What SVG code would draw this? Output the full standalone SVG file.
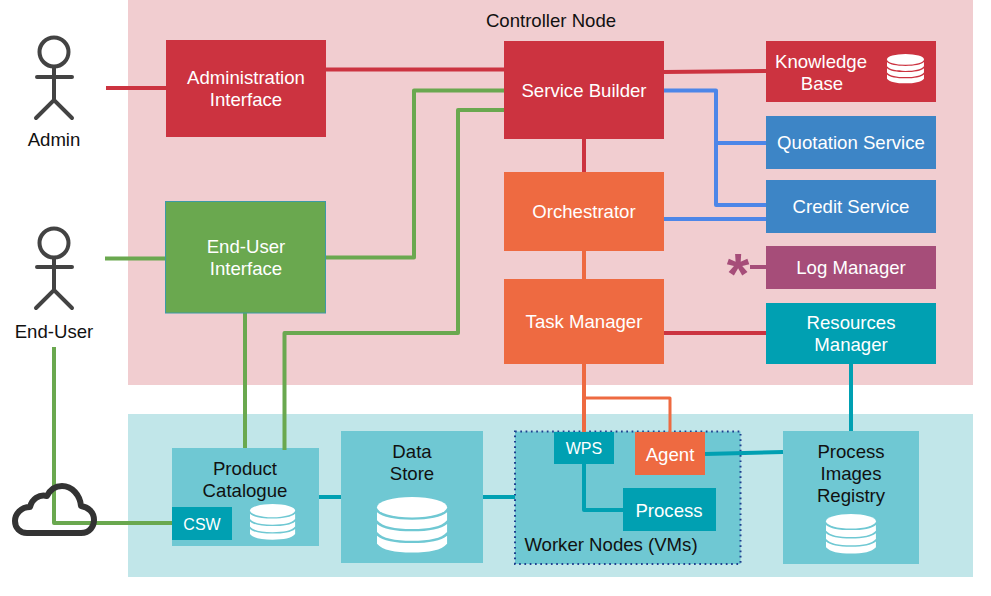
<svg xmlns="http://www.w3.org/2000/svg" width="991" height="596" viewBox="0 0 991 596">
<style>
text{font-family:"Liberation Sans",Arial,sans-serif;font-size:18.600px;text-anchor:middle}
.w{fill:#fff}.k{fill:#111}
.red{fill:#cc3340}.org{fill:#ee6a41}.blu{fill:#3d85c6}.tea{fill:#00a0b2}.lt{fill:#6fc8d3}
.c{fill:none;stroke-width:4;stroke-linejoin:round}
.cr{stroke:#cc3340}.cg{stroke:#6aa84f}.cb{stroke:#4d86e8}.co{stroke:#ee6a41}.ct{stroke:#00a0b2}
.p{fill:none;stroke:#434343;stroke-width:4;stroke-linecap:round}
</style>
<defs>
<g id="db">
<ellipse cx="24" cy="7" rx="24" ry="7" fill="#fff"/>
<path id="dbb" d="M0 10.500C4 14 12 15.500 24 15.500S44 14 48 10.500V16C44 20.500 36 22 24 22S4 20.500 0 16Z" fill="#fff"/>
<use href="#dbb" y="8"/>
<use href="#dbb" y="16"/>
</g>
</defs>
<rect width="991" height="596" fill="#fff"/>
<rect id="controller-panel" x="128" y="0" width="845" height="385" fill="#f1cdd0"/>
<rect id="worker-panel" x="128" y="414" width="845" height="163" fill="#c1e6e9"/>
<text x="551" y="27" class="k">Controller Node</text>

<g id="product-catalogue"><rect x="172" y="448" width="147" height="98" class="lt"/><text x="245" y="475" class="k">Product</text><text x="245" y="497" class="k">Catalogue</text></g>
<g id="data-store"><rect x="341" y="431" width="142" height="132" class="lt"/><text x="412" y="458" class="k">Data</text><text x="412" y="480" class="k">Store</text><use href="#db" transform="translate(377 497) scale(1.46)"/></g>
<g id="worker-nodes"><rect x="515" y="431.500" width="225.500" height="132.500" class="lt" stroke="#1f3f8f" stroke-width="2" stroke-dasharray="1.700 3.600"/><text x="611" y="551" class="k">Worker Nodes (VMs)</text></g>
<g id="registry"><rect x="783" y="431" width="136" height="133" class="lt"/><text x="851" y="458" class="k">Process</text><text x="851" y="480" class="k">Images</text><text x="851" y="502" class="k">Registry</text><use href="#db" transform="translate(826 514) scale(1.04)"/></g>

<g id="connectors">
<path class="c cr" d="M106 88H166M326 69.500H504M664 72L766 71M584 138V172M664 333H766"/>
<path class="c cg" d="M105 258.500H166M245 313V448M326 257.500H414V90.500H504M284.500 450V333H458V110H504M54 347V523H172"/>
<path class="c cb" d="M664 90.500H716V205H766M716 143H766M664 219H766"/>
<path class="c co" d="M584 251V279M584 364V432"/>
<path class="c co" style="stroke-width:3" d="M584 398H670V432"/>
<path class="c ct" d="M851 364V431M705 454L783 452M319 497H341M483 497H515M584 464V510H623"/>
<path class="c" stroke="#a64d79" d="M750 267H766"/>
</g>

<g id="admin-interface"><rect x="166" y="40" width="160" height="97" class="red"/><text x="246" y="84" class="w">Administration</text><text x="246" y="106" class="w">Interface</text></g>
<g id="enduser-interface"><rect x="165.500" y="201.500" width="160" height="111.500" fill="#6aa84f" stroke="#3c9aa5"/><text x="246" y="253" class="w">End-User</text><text x="246" y="275" class="w">Interface</text></g>
<g id="service-builder"><rect x="504" y="41" width="160" height="98" class="red"/><text x="584" y="97" class="w">Service Builder</text></g>
<g id="orchestrator"><rect x="504" y="172" width="160" height="79" class="org"/><text x="584" y="218" class="w">Orchestrator</text></g>
<g id="task-manager"><rect x="504" y="279" width="160" height="85" class="org"/><text x="584" y="328" class="w">Task Manager</text></g>
<g id="knowledge-base"><rect x="766" y="41" width="170" height="61" class="red"/><text x="821" y="68" class="w">Knowledge</text><text x="822" y="90" class="w">Base</text><use href="#db" transform="translate(887 54) scale(.77)"/></g>
<g id="quotation-service"><rect x="766" y="116" width="170" height="53" class="blu"/><text x="851" y="149" class="w">Quotation Service</text></g>
<g id="credit-service"><rect x="766" y="180" width="170" height="53" class="blu"/><text x="851" y="213" class="w">Credit Service</text></g>
<g id="log-manager"><rect x="766" y="246" width="170" height="43" fill="#a64d79"/><text x="851" y="274" class="w">Log Manager</text><text x="738" y="294" style="font-size:58px;font-weight:bold" fill="#a64d79">*</text></g>
<g id="resources-manager"><rect x="766" y="303" width="170" height="61" class="tea"/><text x="851" y="329" class="w">Resources</text><text x="851" y="351" class="w">Manager</text></g>
<g id="csw"><rect x="172" y="507" width="60" height="33" class="tea"/><text x="202" y="530" class="w" style="font-size:16px">CSW</text></g>
<use href="#db" transform="translate(250 504) scale(.94)"/>
<g id="wps"><rect x="554" y="432" width="60" height="32" class="tea"/><text x="584" y="454" class="w" style="font-size:16px">WPS</text></g>
<g id="agent"><rect x="635" y="432" width="70" height="43" class="org"/><text x="670" y="461" class="w">Agent</text></g>
<g id="process"><rect x="623" y="488" width="93" height="43" class="tea"/><text x="669" y="517" class="w">Process</text></g>

<g id="admin"><circle cx="54" cy="52" r="14.500" class="p"/><path class="p" d="M37 77H72M54 67V100M36 118L54 100L72 118"/><text x="54" y="146" class="k">Admin</text></g>
<g id="end-user"><circle cx="54" cy="243" r="14.500" class="p"/><path class="p" d="M37 267H72M54 258V290M36 308L54 290L72 308"/><text x="54" y="338" class="k">End-User</text></g>
<g id="cloud"><path d="M27 533H81C90 533 94 526 94 520C94 512 88 507 81 506C80 495 72 486 62 486C55 486 50 490 47 496C39 494 32 499 30 507C21 507 15 514 15 521C15 528 20 533 27 533Z" fill="none" stroke="#333" stroke-width="6" stroke-linejoin="round"/></g>
</svg>
